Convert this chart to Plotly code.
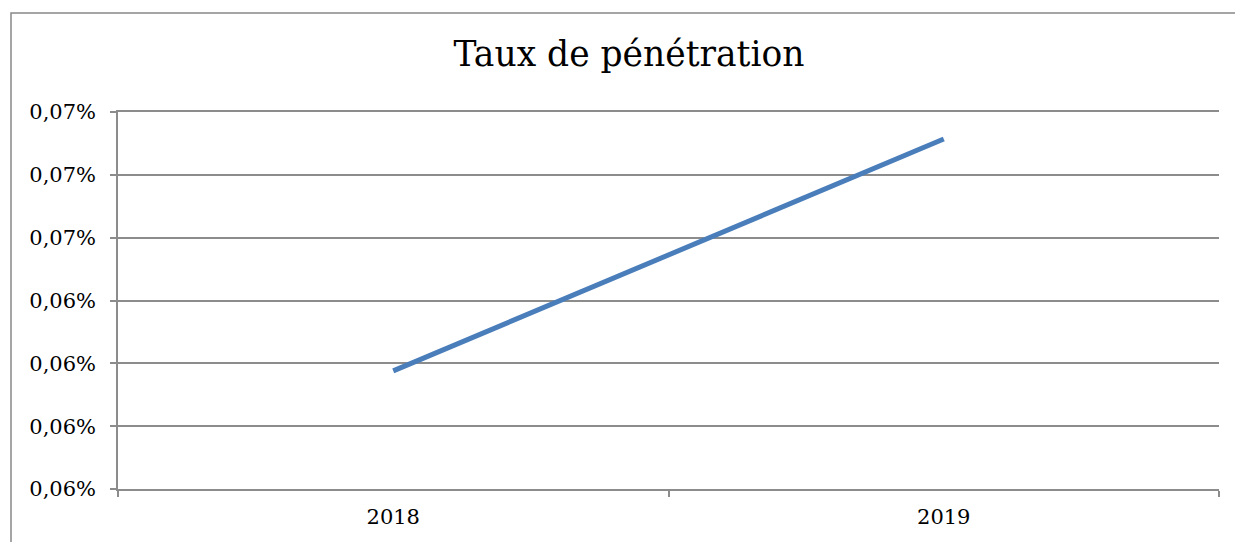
import plotly.graph_objects as go

years = ["2018", "2019"]
taux = [0.0006176, 0.0006914]  # fraction (0.0618 %, 0.0691 %)
y_ticks = [0.00058, 0.00060, 0.00062, 0.00064, 0.00066, 0.00068, 0.00070]

FONT = "DejaVu Serif"
GRID = "#8c8c8c"

fig = go.Figure()
fig.add_trace(go.Scatter(
    x=years, y=taux, mode="lines",
    line=dict(color="#4a7ebb", width=5),
    showlegend=False, hoverinfo="skip",
))

fig.update_layout(
    width=1235, height=542,
    margin=dict(l=118, r=16, t=112, b=53),
    paper_bgcolor="white", plot_bgcolor="white",
    separators=", ",
    font=dict(family=FONT, color="black", size=21),
    title=dict(text="Taux de pénétration", x=629 / 1235, xanchor="center",
               y=1 - 54 / 542, yanchor="middle", yref="container", xref="container",
               font=dict(family=FONT, size=34.5, color="black")),
    xaxis=dict(
        type="category", range=[-0.5, 1.5],
        showgrid=False, showline=True, mirror=True, linecolor=GRID, linewidth=1.5,
        ticks="outside", tickson="boundaries", ticklen=6, tickcolor=GRID, tickwidth=1.5,
        ticklabelstandoff=8, fixedrange=True,
    ),
    yaxis=dict(
        range=[y_ticks[0], y_ticks[-1]], tickvals=y_ticks, tickformat=".2%",
        showgrid=True, gridcolor=GRID, gridwidth=1.5,
        showline=True, linecolor=GRID, linewidth=1.5,
        ticks="outside", ticklen=6, tickcolor=GRID, tickwidth=1.5,
        ticklabelstandoff=10, zeroline=False, fixedrange=True,
    ),
    shapes=[dict(
        type="rect", xref="paper", yref="paper",
        x0=(11 - 118) / 1101, x1=2, y0=-1, y1=(489 - 13) / 377,
        line=dict(color="#888888", width=1.5), fillcolor="rgba(0,0,0,0)", layer="below",
    )],
)

fig.write_html("out.html", config={"displayModeBar": False},
               post_script="document.body.style.margin='0';document.body.style.overflow='hidden';")
